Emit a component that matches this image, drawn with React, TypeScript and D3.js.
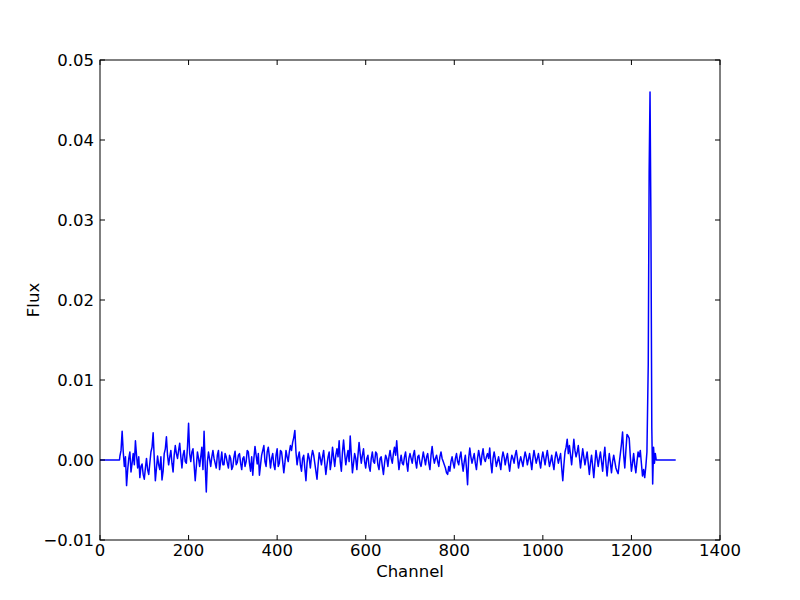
import React from "react";
import * as d3 from "d3";

const xTicks = [0, 200, 400, 600, 800, 1000, 1200, 1400];
const yTicks = [-0.01, 0.0, 0.01, 0.02, 0.03, 0.04, 0.05];
const yTickLabels = ["\u22120.01", "0.00", "0.01", "0.02", "0.03", "0.04", "0.05"];

// leading flat part
const headChannels = [0, 44];
const headFlux = [0, 0];

// noisy part, in five stretches of channels
const segmentStarts = [45, 250, 490, 730, 970];
const segmentEnds = [245, 485, 725, 965, 1235];

const noise1 = [
  0.0005, 0.0012, 0.0036, 0.001, -0.0008, 0.0004, -0.0032, -0.0012, 0.0002, 0.001,
  -0.0015, -0.0004, 0.0008, -0.0006, 0.0024, 0.0006, -0.001, 0.0004, -0.0022, -0.0008,
  -0.0005, -0.0018, -0.0024, -0.001, 0.0002, -0.0012, -0.0018, -0.0004, 0.001, 0.0016,
  0.0034, 0.0002, -0.0026, -0.001, 0.0005, -0.0006, -0.0012, 0.0004, -0.0025, -0.0014,
  0.0008, 0.0014, 0.0029, 0.0006, -0.0006, 0.0004, 0.0012, -0.0004, -0.0015, 0.0006,
  0.0018, 0.0008, 0.0002, 0.0012, 0.0021, 0.0004, -0.001, 0.0006, 0.0012, -0.0002,
  -0.0004, 0.0016, 0.0046, 0.0008, -0.0002, 0.001, 0.0014, -0.0006, -0.0026, -0.0008,
  0.001, 0.0002, -0.0008, 0.0004, 0.0016, -0.0012, 0.0036, -0.0006, -0.004, -0.0002,
  0.001,
];
const noise2 = [
  -0.0008, 0.0004, 0.0012, 0.0002, -0.0004, -0.001, 0.0006, 0.0012, -0.0012, -0.0002,
  0.001, -0.0006, -0.0006, 0.0008, 0.0004, -0.0004, -0.001, 0.0006, 0.0002, -0.0012,
  -0.0008, 0.0004, 0.0011, -0.0006, -0.0003, 0.0006, 0.0008, -0.0004, -0.0012, 0.0002,
  0.0004, -0.0008, -0.0002, 0.0012, 0.001, -0.0004, -0.0014, 0.0004, -0.0019, 0.0002,
  0.0017, 0.0006, -0.0005, 0.0008, -0.0019, -0.0006, 0.0006, 0.0012, 0.0018, -0.0002,
  -0.0008, 0.001, 0.0016, 0.0004, -0.001, 0.0002, 0.0008, -0.0006, -0.0012, 0.0006,
  0.0014, -0.0008, -0.0004, 0.0012, 0.001, -0.0002, -0.0016, -0.0004, 0.0012, 0.0004,
  -0.0002, 0.001, 0.0018, 0.0012, 0.0022, 0.0028, 0.0037, 0.001, -0.0006, 0.0004,
  0.001, -0.0006, -0.0014, 0.0002, 0.0006, -0.001, -0.0026, -0.0004, 0.0008, 0.0002,
  -0.001, 0.0004, 0.0012, 0.0006, -0.0004,
];
const noise3 = [
  -0.0024, -0.0006, 0.0009, 0.0002, -0.0006, 0.0004, 0.0012, -0.0004, -0.0018, -0.0006,
  0.0004, 0.001, -0.0012, -0.0002, 0.0016, 0.0004, -0.0008, 0.0006, 0.0014, 0.0004,
  0.0024, -0.0002, -0.0014, 0.001, 0.0025, 0.0008, -0.0006, 0.0004, 0.0012, -0.0002,
  0.003, 0.0006, -0.0016, -0.0004, 0.0008, 0.0002, -0.0012, 0.0006, 0.0022, 0.0008,
  -0.0004, 0.0006, 0.0014, -0.0002, -0.001, 0.0002, 0.0006, -0.0008, -0.0014, 0.0002,
  0.001, -0.0002, -0.0004, 0.001, 0.0008, -0.0006, -0.0012, 0.0002, 0.0004, -0.0008,
  -0.0018, -0.0004, 0.0006, 0.0002, -0.0008, 0.0004, 0.0012, 0.0002, -0.0004, 0.0008,
  0.0016, 0.0006, 0.0024, 0.0004, -0.0012, -0.0002, 0.0006, -0.0004, -0.0006, 0.0004,
  0.001, -0.0004, -0.0014, 0.0002, 0.0008, 0.0002, -0.0004, 0.0006, 0.0012, -0.0002,
  -0.001, 0.0004, 0.0006, -0.0004, -0.0008,
];
const noise4 = [
  0.001, 0.0002, -0.0006, 0.0004, 0.0008, -0.0004, -0.0012, 0.0006, 0.0017, 0.0004,
  -0.0004, 0.0002, 0.0006, -0.0002, -0.0008, 0.0004, 0.001, 0.0002, -0.0002, -0.0006,
  -0.001, -0.0016, -0.0018, -0.0008, -0.0014, -0.0002, 0.0004, -0.0004, -0.001, 0.0002,
  0.0008, -0.0002, -0.0006, 0.0004, 0.001, -0.0004, -0.0014, -0.0002, 0.0006, -0.001,
  -0.0031, 0.0002, 0.0015, 0.0004, -0.0004, 0.0002, 0.0008, -0.0004, -0.0012, 0.0002,
  0.0012, 0.0004, -0.0006, 0.0006, 0.0014, 0.0002, -0.0002, 0.0004, 0.0008, 0.0002,
  0.0015, -0.0004, -0.0016, 0.0002, 0.001, 0.0002, -0.0008, -0.0002, 0.0004, -0.0004,
  -0.0012, 0.0002, 0.001, 0.0004, -0.0006, 0.0002, 0.0008, -0.0004, -0.0014, -0.0002,
  0.0006, 0.0002, -0.0004, 0.0006, 0.0012, 0.0002, -0.001, -0.0002, 0.0004, -0.0002,
  -0.0008, 0.0002, 0.001, 0.0004, -0.0006,
];
const noise5 = [
  0.0008, -0.0002, -0.0012, 0.0002, 0.0012, 0.0004, -0.0004, 0.0002, 0.0008, -0.0002,
  -0.001, 0.0002, 0.001, 0.0002, -0.0006, 0.0004, 0.0012, 0.0002, -0.0008, -0.0002,
  0.0006, -0.0004, -0.0012, 0.0002, 0.001, 0.0004, -0.0004, 0.0002, 0.0008, -0.001,
  -0.0026, -0.0006, 0.001, 0.0016, 0.0026, 0.0008, 0.0018, 0.0006, -0.0006, 0.001,
  0.0026, 0.0012, 0.0004, 0.001, 0.0018, 0.0004, -0.001, 0.0002, 0.0014, 0.0004,
  -0.0006, 0.0002, 0.001, -0.0004, -0.0018, -0.0004, 0.0006, -0.0008, -0.0022, -0.0004,
  0.0012, 0.0002, -0.0008, 0.0002, 0.001, -0.0002, -0.0014, 0.0004, 0.0016, -0.0004,
  -0.002, -0.0004, 0.0008, -0.0004, -0.0016, -0.0002, 0.0006, -0.0002, -0.001, -0.0014,
  -0.0017, -0.0004, 0.0008, 0.002, 0.0035, 0.0006, -0.001, 0.0012, 0.0032, 0.003,
  0.0027, 0.0004, -0.0014, -0.0004, 0.0008, -0.0006, -0.0016, -0.0002, 0.001, 0.0004,
  0.0012, -0.0004, -0.002, -0.0012, -0.0022, -0.0008, 0.001,
];
const noiseSegments = [noise1, noise2, noise3, noise4, noise5];

// line spike and its edge
const spikeChannels = [1238, 1240, 1242, 1244, 1246, 1248, 1250, 1252, 1254, 1256];
const spikeFlux = [0.012, 0.036, 0.046, 0.03, 0.004, -0.003, 0.0016, -0.0004, 0.0008, 0];

// trailing flat part
const tailChannels = [1300];
const tailFlux = [0];

const W = 800;
const H = 600;
const M = { left: 100, right: 80, top: 60, bottom: 60 };

export default function App() {
  const data: [number, number][] = [];
  headChannels.forEach((c, i) => data.push([c, headFlux[i]]));
  noiseSegments.forEach((seg, s) => {
    const idx = d3.scaleLinear().domain([0, seg.length - 1]).range([segmentStarts[s], segmentEnds[s]]);
    seg.forEach((v, i) => data.push([idx(i), v]));
  });
  spikeChannels.forEach((c, i) => data.push([c, spikeFlux[i]]));
  tailChannels.forEach((c, i) => data.push([c, tailFlux[i]]));

  const x = d3.scaleLinear().domain([0, 1400]).range([M.left, W - M.right]);
  const y = d3.scaleLinear().domain([-0.01, 0.05]).range([H - M.bottom, M.top]);
  const line = d3
    .line<[number, number]>()
    .x((d) => x(d[0]))
    .y((d) => y(d[1]));

  const font = "'DejaVu Sans', sans-serif";
  const fs = 16.5;
  const tl = 5;
  const x0 = M.left;
  const x1 = W - M.right;
  const y0 = H - M.bottom;
  const y1 = M.top;

  return (
    <svg
      width={W}
      height={H}
      style={{ position: "absolute", left: 0, top: 0, display: "block", background: "#fff" }}
    >
      <rect x={0} y={0} width={W} height={H} fill="#fff" />
      <path d={line(data) || ""} fill="none" stroke="#0000ff" strokeWidth={1.5} strokeLinejoin="round" />
      <rect x={x0} y={y1} width={x1 - x0} height={y0 - y1} fill="none" stroke="#000" strokeWidth={1} />
      {xTicks.map((t) => (
        <g key={"x" + t}>
          <line x1={x(t)} x2={x(t)} y1={y0} y2={y0 - tl} stroke="#000" />
          <line x1={x(t)} x2={x(t)} y1={y1} y2={y1 + tl} stroke="#000" />
          <text x={x(t)} y={y0 + 16} textAnchor="middle" fontFamily={font} fontSize={fs}>
            {t}
          </text>
        </g>
      ))}
      {yTicks.map((t, i) => (
        <g key={"y" + t}>
          <line x1={x0} x2={x0 + tl} y1={y(t)} y2={y(t)} stroke="#000" />
          <line x1={x1} x2={x1 - tl} y1={y(t)} y2={y(t)} stroke="#000" />
          <text x={x0 - 6} y={y(t)} dy="0.36em" textAnchor="end" fontFamily={font} fontSize={fs}>
            {yTickLabels[i]}
          </text>
        </g>
      ))}
      <text x={(x0 + x1) / 2} y={577} textAnchor="middle" fontFamily={font} fontSize={fs}>
        Channel
      </text>
      <text
        transform={`translate(39, ${(y0 + y1) / 2}) rotate(-90)`}
        textAnchor="middle"
        fontFamily={font}
        fontSize={fs}
      >
        Flux
      </text>
    </svg>
  );
}
